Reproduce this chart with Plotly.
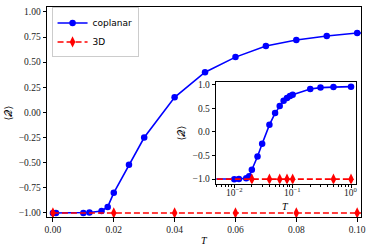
import numpy as np
import plotly.graph_objects as go

# Data
T_coplanar = [0, 0.001, 0.01, 0.012, 0.016, 0.018, 0.02, 0.025, 0.03, 0.04, 0.05,
              0.06, 0.07, 0.08, 0.09, 0.1, 0.2, 0.3, 0.5, 1.0]
Q_coplanar = [-1.0, -1.0, -1.0, -0.995, -0.98, -0.94, -0.80, -0.52, -0.25, 0.15, 0.40,
              0.55, 0.66, 0.72, 0.76, 0.79, 0.91, 0.94, 0.95, 0.96]
T_3d = [0, 0.02, 0.04, 0.06, 0.08, 0.1, 0.5, 1.0]
Q_3d = [-1.0] * len(T_3d)

main_xticks = [0.0, 0.02, 0.04, 0.06, 0.08, 0.10]
main_yticks = [-1.0, -0.75, -0.5, -0.25, 0.0, 0.25, 0.5, 0.75, 1.0]
inset_xticks = [0.01, 0.1, 1.0]
inset_xticklabels = ["10<sup>\u22122</sup>", "10<sup>\u22121</sup>", "10<sup>0</sup>"]
inset_yticks = [-1.0, -0.5, 0.0, 0.5, 1.0]

W, H = 373, 248
BLUE = "#0000ff"
RED = "#ff0000"
SERIF = "Liberation Serif, DejaVu Serif, serif"
SANS = "DejaVu Sans, sans-serif"

def px_x(p):
    return p / W

def px_y(p):
    return 1 - p / H

# log axis: matplotlib clips nonpositive values to a tiny number
T_cop_log = [t if t > 0 else 1e-6 for t in T_coplanar]
T_3d_log = [t if t > 0 else 1e-6 for t in T_3d]

fig = go.Figure()

fig.add_trace(go.Scatter(x=T_coplanar, y=Q_coplanar, mode="lines+markers", name="coplanar",
                         line=dict(color=BLUE, width=1.6),
                         marker=dict(symbol="circle", size=6.5, color=BLUE),
                         xaxis="x", yaxis="y"))
fig.add_trace(go.Scatter(x=T_3d, y=Q_3d, mode="lines+markers", name="3D",
                         line=dict(color=RED, width=1.6, dash="6px,3px"),
                         marker=dict(symbol="diamond-tall", size=8, color=RED),
                         xaxis="x", yaxis="y"))

fig.add_trace(go.Scatter(x=T_cop_log, y=Q_coplanar, mode="lines+markers", showlegend=False,
                         line=dict(color=BLUE, width=1.6),
                         marker=dict(symbol="circle", size=6.5, color=BLUE),
                         xaxis="x2", yaxis="y2"))
fig.add_trace(go.Scatter(x=T_3d_log, y=Q_3d, mode="lines+markers", showlegend=False,
                         line=dict(color=RED, width=1.6, dash="6px,3px"),
                         marker=dict(symbol="diamond-tall", size=8, color=RED),
                         xaxis="x2", yaxis="y2"))

TICKFONT = dict(family=SERIF, size=9.5, color="#222")
axis_common = dict(showline=True, linecolor="black", linewidth=1, mirror=True,
                   ticks="outside", ticklen=3.5, tickwidth=0.8, tickcolor="black",
                   showgrid=False, zeroline=False, tickfont=TICKFONT)

annotations = [
    dict(text="\u27e8\U0001D4AC\u27e9", x=px_x(7), y=px_y(112), xref="paper", yref="paper",
         xanchor="center", yanchor="middle",
         textangle=-90, showarrow=False, font=dict(family=SERIF, size=10, color="black")),
    dict(text="<i>T</i>", x=px_x(206), y=px_y(241), xref="paper", yref="paper",
         xanchor="center", yanchor="middle",
         showarrow=False, font=dict(family=SERIF, size=10, color="black")),
    dict(text="\u27e8\U0001D4AC\u27e9", x=px_x(182.5), y=px_y(133), xref="paper", yref="paper",
         xanchor="center", yanchor="middle",
         textangle=-90, showarrow=False, font=dict(family=SERIF, size=10, color="black")),
    dict(text="<i>T</i>", x=px_x(289), y=px_y(206.5), xref="paper", yref="paper",
         xanchor="center", yanchor="middle",
         showarrow=False, font=dict(family=SERIF, size=10, color="black")),
]
# inset log-axis tick labels, placed on the inset x axis at the tick values
for v, lab in zip(inset_xticks, inset_xticklabels):
    annotations.append(dict(text=lab, x=np.log10(v), xref="x2", y=px_y(192.5), yref="paper",
                            xanchor="center", yanchor="middle", showarrow=False,
                            font=TICKFONT))

fig.update_layout(
    width=W, height=H,
    margin=dict(l=0, r=0, t=0, b=0),
    paper_bgcolor="white", plot_bgcolor="white",
    showlegend=True,
    legend=dict(x=px_x(50.5), y=px_y(5.5), xanchor="left", yanchor="top",
                bgcolor="rgba(255,255,255,0.9)", bordercolor="#cccccc", borderwidth=1,
                font=dict(family=SANS, size=9, color="black"),
                itemwidth=30, tracegroupgap=0),
    xaxis=dict(domain=[px_x(46), px_x(366)], range=[-0.0019, 0.1013],
               tickvals=main_xticks, tickformat=".2f", anchor="y", **axis_common),
    yaxis=dict(domain=[px_y(218), px_y(4.7)], range=[-1.044, 1.052],
               tickvals=main_yticks, tickformat=".2f", anchor="x", **axis_common),
    xaxis2=dict(domain=[px_x(218.3), px_x(360.7)], type="log", range=[-2.31, 0.084],
                tickvals=inset_xticks, showticklabels=False, anchor="y2",
                minor=dict(ticks="outside", ticklen=2, tickwidth=0.6, tickcolor="black",
                           dtick="D1", showgrid=False),
                **axis_common),
    yaxis2=dict(domain=[px_y(184), px_y(81)], range=[-1.098, 1.058],
                tickvals=inset_yticks, tickformat=".1f", anchor="x2", **axis_common),
    annotations=annotations,
)

fig.write_html("out.html", config={"displayModeBar": False},
               post_script="document.body.style.margin='0';document.body.style.overflow='hidden';")
